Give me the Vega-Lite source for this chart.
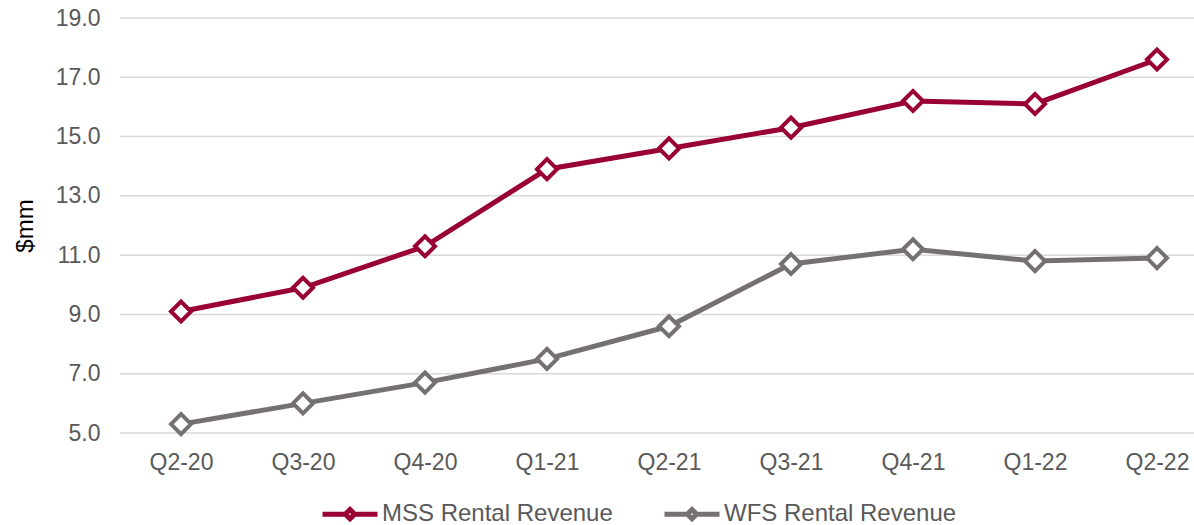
{
  "$schema": "https://vega.github.io/schema/vega-lite/v6.json",
  "width": 1074,
  "height": 415,
  "autosize": {"type": "none"},
  "padding": {"left": 120, "top": 18, "right": 0, "bottom": 92},
  "background": "white",
  "config": {"view": {"stroke": null}, "font": "Liberation Sans"},
  "datasets": {
    "revenue": [
      {"quarter": "Q2-20", "series": "MSS Rental Revenue", "value": 9.1},
      {"quarter": "Q3-20", "series": "MSS Rental Revenue", "value": 9.9},
      {"quarter": "Q4-20", "series": "MSS Rental Revenue", "value": 11.3},
      {"quarter": "Q1-21", "series": "MSS Rental Revenue", "value": 13.9},
      {"quarter": "Q2-21", "series": "MSS Rental Revenue", "value": 14.6},
      {"quarter": "Q3-21", "series": "MSS Rental Revenue", "value": 15.3},
      {"quarter": "Q4-21", "series": "MSS Rental Revenue", "value": 16.2},
      {"quarter": "Q1-22", "series": "MSS Rental Revenue", "value": 16.1},
      {"quarter": "Q2-22", "series": "MSS Rental Revenue", "value": 17.6},
      {"quarter": "Q2-20", "series": "WFS Rental Revenue", "value": 5.3},
      {"quarter": "Q3-20", "series": "WFS Rental Revenue", "value": 6.0},
      {"quarter": "Q4-20", "series": "WFS Rental Revenue", "value": 6.7},
      {"quarter": "Q1-21", "series": "WFS Rental Revenue", "value": 7.5},
      {"quarter": "Q2-21", "series": "WFS Rental Revenue", "value": 8.6},
      {"quarter": "Q3-21", "series": "WFS Rental Revenue", "value": 10.7},
      {"quarter": "Q4-21", "series": "WFS Rental Revenue", "value": 11.2},
      {"quarter": "Q1-22", "series": "WFS Rental Revenue", "value": 10.8},
      {"quarter": "Q2-22", "series": "WFS Rental Revenue", "value": 10.9}
    ],
    "gridlines": [
      {"value": 5}, {"value": 7}, {"value": 9}, {"value": 11},
      {"value": 13}, {"value": 15}, {"value": 17}, {"value": 19}
    ]
  },
  "layer": [
    {
      "data": {"name": "gridlines"},
      "mark": {"type": "rule", "color": "#d9d9d9", "strokeWidth": 1.5},
      "encoding": {
        "y": {
          "field": "value",
          "type": "quantitative",
          "scale": {"domain": [5, 19], "nice": false, "zero": false},
          "axis": {
            "title": "$mm",
            "titleColor": "#000000",
            "titleFontSize": 24,
            "titleFontWeight": "normal",
            "titlePadding": 18,
            "values": [5, 7, 9, 11, 13, 15, 17, 19],
            "format": ".1f",
            "domain": false,
            "ticks": false,
            "grid": false,
            "labelFontSize": 23,
            "labelColor": "#595959",
            "labelPadding": 20
          }
        }
      }
    },
    {
      "data": {"name": "revenue"},
      "encoding": {
        "x": {
          "field": "quarter",
          "type": "ordinal",
          "sort": null,
          "scale": {"type": "point", "range": [61, 1037], "padding": 0},
          "axis": {
            "title": null,
            "domain": false,
            "ticks": false,
            "grid": false,
            "labelAngle": 0,
            "labelFontSize": 23,
            "labelColor": "#595959",
            "labelPadding": 18
          }
        },
        "y": {"field": "value", "type": "quantitative"},
        "color": {
          "field": "series",
          "type": "nominal",
          "scale": {
            "domain": ["MSS Rental Revenue", "WFS Rental Revenue"],
            "range": ["#990033", "#767171"]
          },
          "legend": {
            "title": null,
            "orient": "none",
            "legendX": 200,
            "legendY": 466,
            "direction": "horizontal",
            "padding": 0,
            "labelFontSize": 24,
            "labelLimit": 400,
            "labelColor": "#595959",
            "labelOffset": 2,
            "columnPadding": 41,
            "symbolType": "M-1,0L-0.17,0M0.17,0L1,0M0,-0.17L0.17,0L0,0.17L-0.17,0Z",
            "symbolSize": 3025,
            "symbolStrokeWidth": 5,
            "symbolFillColor": "white"
          }
        }
      },
      "layer": [
        {"mark": {"type": "line", "strokeWidth": 5}},
        {
          "mark": {
            "type": "point",
            "shape": "diamond",
            "filled": false,
            "fill": "white",
            "fillOpacity": 1,
            "opacity": 1,
            "size": 400,
            "strokeWidth": 4
          }
        }
      ]
    }
  ]
}
